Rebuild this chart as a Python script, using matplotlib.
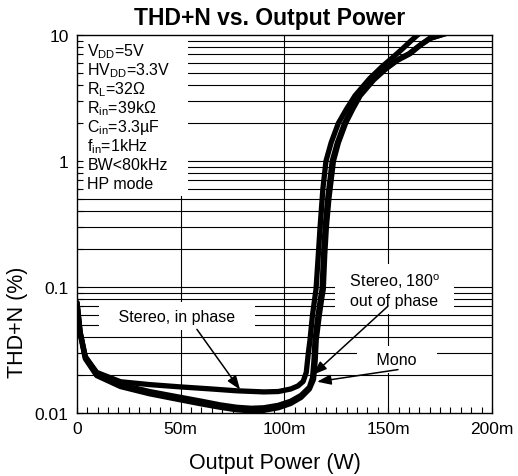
import matplotlib
matplotlib.use('Agg')
import matplotlib.pyplot as plt
from matplotlib.patches import Rectangle
from matplotlib.ticker import FixedLocator, MultipleLocator, NullFormatter

plt.rcParams['font.family'] = ['Liberation Sans', 'DejaVu Sans']
plt.rcParams['mathtext.fontset'] = 'custom'
plt.rcParams['mathtext.rm'] = 'Liberation Sans'
plt.rcParams['mathtext.it'] = 'Liberation Sans:italic'

# output power in mW, THD+N in %
inphase_x = [0, 1.5, 4, 9.5, 21, 35, 50, 65, 77, 90, 97, 103, 106.5, 109, 110.5, 111.5,
             112.3, 113.5, 115.2, 116.2, 117.1, 118.5, 120, 122.5, 126, 130, 134, 141,
             147, 152, 157, 161, 165.3]
inphase_y = [0.075, 0.044, 0.028, 0.021, 0.0177, 0.0168, 0.0161, 0.0155, 0.0150, 0.0147,
             0.0148, 0.0155, 0.0164, 0.0178, 0.021, 0.03, 0.038, 0.06, 0.096, 0.17, 0.29,
             0.6, 1.0, 1.4, 2.0, 2.6, 3.3, 4.5, 5.6, 6.6, 7.8, 9.0, 10.4]

outphase_x = [0, 1.5, 4, 9.5, 21, 35, 50, 60, 69, 77, 84, 90, 97, 103, 108, 112, 113.5,
              114.2, 114.7, 116.2, 117.3, 118.1, 118.8, 119.6, 120.8, 123, 125.5, 129,
              132.5, 136, 142.5, 148.5, 154, 160, 165.3, 170, 178]
outphase_y = [0.075, 0.044, 0.028, 0.0205, 0.0168, 0.0148, 0.0133, 0.0124, 0.0116, 0.0111,
              0.0109, 0.011, 0.0115, 0.0124, 0.0138, 0.016, 0.019, 0.026, 0.038, 0.06,
              0.08, 0.096, 0.18, 0.3, 0.5, 1.0, 1.4, 2.0, 2.6, 3.3, 4.4, 5.4, 6.3, 7.1,
              8.3, 9.4, 10.3]

mono_x = [0, 1.5, 4, 9.5, 21, 35, 50, 60, 69, 77, 84, 90, 97, 103, 108, 112, 114,
          114.8, 115.3, 116.8, 117.9, 118.7, 119.4, 120.2, 121.4, 123.6, 126, 129.5,
          133, 136.5, 143, 149, 154.5, 160.5, 165.5, 170.3, 178]
mono_y = [0.075, 0.043, 0.027, 0.0198, 0.0162, 0.0142, 0.0127, 0.0118, 0.0111, 0.0106,
          0.0104, 0.0105, 0.011, 0.0119, 0.0133, 0.0155, 0.0185, 0.026, 0.038, 0.06,
          0.08, 0.096, 0.18, 0.3, 0.5, 1.0, 1.4, 2.0, 2.6, 3.3, 4.4, 5.4, 6.3, 7.1,
          8.3, 9.4, 10.3]

x_ticks = [0, 50, 100, 150, 200]
x_ticklabels = ['0', '50m', '100m', '150m', '200m']
y_ticks = [0.01, 0.1, 1, 10]
y_ticklabels = ['0.01', '0.1', '1', '10']

conditions = [r'V$_{\mathrm{DD}}$=5V', r'HV$_{\mathrm{DD}}$=3.3V', r'R$_{\mathrm{L}}$=32Ω',
              r'R$_{\mathrm{in}}$=39kΩ', r'C$_{\mathrm{in}}$=3.3µF', r'f$_{\mathrm{in}}$=1kHz',
              'BW<80kHz', 'HP mode']

fig = plt.figure(figsize=(5.18, 4.77), dpi=100)
ax = fig.add_axes([0.1486, 0.1321, 0.8012, 0.7925])
ax.set_yscale('log')
ax.set_xlim(0, 200)
ax.set_ylim(0.01, 10)

# grid drawn by hand so the white boxes can sit on top of it
for dec in [0.01, 0.1, 1]:
    for k in range(1, 10):
        v = dec * k
        if v > 0.01:
            ax.axhline(v, color='black', lw=0.8, zorder=0.5)
for xv in [50, 100, 150]:
    ax.axvline(xv, color='black', lw=0.8, zorder=0.5)

ax.add_patch(Rectangle((0.008, 0.574), 0.26, 0.426, transform=ax.transAxes,
                       facecolor='white', edgecolor='none', zorder=1))
for i, s in enumerate(conditions):
    ax.text(0.025, 0.958 - i * 0.0503, s, transform=ax.transAxes, fontsize=11.5,
            va='center', ha='left', zorder=2)

ax.plot(inphase_x, inphase_y, color='black', lw=3.8, solid_capstyle='round', zorder=3)
ax.plot(outphase_x, outphase_y, color='black', lw=3.8, solid_capstyle='round', zorder=3)
ax.plot(mono_x, mono_y, color='black', lw=3.8, solid_capstyle='round', zorder=3)

box = dict(boxstyle='square,pad=0.4', facecolor='white', edgecolor='none')
ax.text(48.2, 0.0586, '   Stereo, in phase   ', fontsize=11.5, ha='center', va='center',
        bbox=box, zorder=4)
ax.text(152.8, 0.095, '  Stereo, 180$^{\\mathrm{o}}$  \n  out of phase  ', fontsize=11.5,
        ha='center', va='center', multialignment='left', bbox=box, zorder=4)
ax.text(154.2, 0.0266, '   Mono   ', fontsize=11.5, ha='center', va='center', bbox=box, zorder=4)

arrow = dict(arrowstyle='-|>,head_length=0.6,head_width=0.22', color='black', lw=1.1,
             shrinkA=0, shrinkB=0, mutation_scale=14)
ax.annotate('', xy=(78.6, 0.0153), xytext=(57.8, 0.0461), arrowprops=arrow, zorder=5)
ax.annotate('', xy=(113.7, 0.0201), xytext=(149.9, 0.0705), arrowprops=arrow, zorder=5)
ax.annotate('', xy=(115.7, 0.0177), xytext=(154.7, 0.0221), arrowprops=arrow, zorder=5)

ax.xaxis.set_major_locator(FixedLocator(x_ticks))
ax.set_xticklabels(x_ticklabels)
ax.xaxis.set_minor_locator(MultipleLocator(5))
ax.yaxis.set_major_locator(FixedLocator(y_ticks))
ax.set_yticklabels(y_ticklabels)
ax.yaxis.set_minor_locator(FixedLocator([d * k for d in [0.01, 0.1, 1] for k in range(2, 10)]))
ax.yaxis.set_minor_formatter(NullFormatter())
ax.tick_params(axis='both', which='major', direction='in', length=4, width=0.8,
               labelsize=12.5, pad=6)
ax.tick_params(axis='both', which='minor', direction='in', length=4, width=0.8)
for sp in ax.spines.values():
    sp.set_linewidth(1.0)

fig.text(0.521, 0.962, 'THD+N vs. Output Power', fontsize=16.5, fontweight='bold',
         ha='center', va='center')
fig.text(0.531, 0.029, 'Output Power (W)', fontsize=15.5, ha='center', va='center')
fig.text(0.033, 0.325, 'THD+N (%)', fontsize=15.5, ha='center', va='center', rotation=90)

fig.savefig('out.png', dpi=100)
